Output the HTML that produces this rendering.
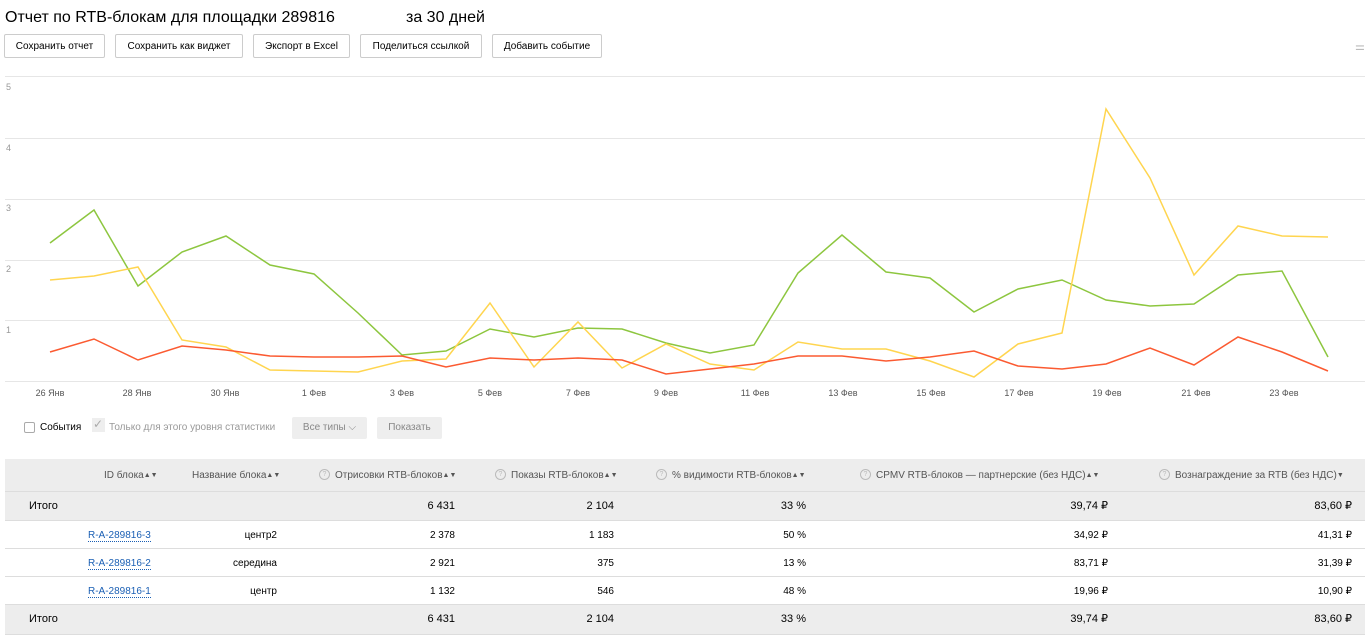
<!DOCTYPE html>
<html><head><meta charset="utf-8"><style>
*{margin:0;padding:0;box-sizing:border-box}
body{width:1365px;height:636px;background:#fff;font-family:"Liberation Sans",Arial,sans-serif;color:#000;position:relative;overflow:hidden}
.a{position:absolute;white-space:nowrap}
.btn{position:absolute;top:34px;height:24px;border:1px solid #ccc;border-radius:2px;font-size:10px;line-height:23px;text-align:center;background:#fff}
.row{position:absolute;left:5px;width:1360px;border-bottom:1px solid #ddd;font-size:10px}
.g{background:#ededed}
.c{position:absolute;white-space:nowrap;line-height:13px}
.r{text-align:right}
.h{color:#555}
.s{font-size:7px;vertical-align:1px}
.q{display:inline-block;width:11px;height:11px;border:1px solid #bbb;border-radius:50%;font-size:7px;line-height:9px;text-align:center;color:#bbb;margin-right:5px;vertical-align:middle;position:relative;top:-1px}
.lnk{color:#1a5fb4;border-bottom:1px dotted #1a5fb4}
</style></head><body>
<div class="a" style="left:5px;top:9px;font-size:16px">Отчет по RTB-блокам для площадки 289816</div>
<div class="a" style="left:406px;top:9px;font-size:16px">за 30 дней</div>
<div class="btn" style="left:4px;width:101px">Сохранить отчет</div>
<div class="btn" style="left:115px;width:128px">Сохранить как виджет</div>
<div class="btn" style="left:253px;width:97px">Экспорт в Excel</div>
<div class="btn" style="left:360px;width:122px">Поделиться ссылкой</div>
<div class="btn" style="left:492px;width:110px">Добавить событие</div>
<div class="a" style="left:1355px;top:40px;font-size:11px;color:#bbb">⚌</div>
<svg class="a" style="left:0;top:0" width="1365" height="400">
<g stroke="#e6e6e6" stroke-width="1">
<line x1="5" y1="76.5" x2="1365" y2="76.5"/><line x1="5" y1="138.5" x2="1365" y2="138.5"/><line x1="5" y1="199.5" x2="1365" y2="199.5"/><line x1="5" y1="260.5" x2="1365" y2="260.5"/><line x1="5" y1="320.5" x2="1365" y2="320.5"/><line x1="5" y1="381.5" x2="1365" y2="381.5"/>
</g>
<g font-size="9" fill="#999" font-family="Liberation Sans,sans-serif">
<text x="6" y="90">5</text><text x="6" y="151">4</text><text x="6" y="211">3</text><text x="6" y="272">2</text><text x="6" y="333">1</text>
</g>
<g font-size="9" fill="#555" font-family="Liberation Sans,sans-serif" text-anchor="middle">
<text x="50" y="396">26 Янв</text><text x="137" y="396">28 Янв</text><text x="225" y="396">30 Янв</text><text x="314" y="396">1 Фев</text><text x="402" y="396">3 Фев</text><text x="490" y="396">5 Фев</text><text x="578" y="396">7 Фев</text><text x="666" y="396">9 Фев</text><text x="755" y="396">11 Фев</text><text x="843" y="396">13 Фев</text><text x="931" y="396">15 Фев</text><text x="1019" y="396">17 Фев</text><text x="1107" y="396">19 Фев</text><text x="1196" y="396">21 Фев</text><text x="1284" y="396">23 Фев</text>
</g>
<g fill="none" stroke-width="1.5">
<polyline stroke="#8dc63f" points="50,243 94,210 138,286 182,252 226,236 270,265 314,274 358,313 402,355 446,351 490,329 534,337 578,328 622,329 666,343 710,353 754,345 798,273 842,235 886,272 930,278 974,312 1018,289 1062,280 1106,300 1150,306 1194,304 1238,275 1282,271 1328,357"/>
<polyline stroke="#ffd54f" points="50,280 94,276 138,267 182,340 226,347 270,370 314,371 358,372 402,361 446,359 490,303 534,367 578,322 622,368 666,344 710,364 754,370 798,342 842,349 886,349 930,361 974,377 1018,344 1062,333 1106,109 1150,178 1194,275 1238,226 1282,236 1328,237"/>
<polyline stroke="#fb5a31" points="50,352 94,339 138,360 182,346 226,350 270,356 314,357 358,357 402,356 446,367 490,358 534,360 578,358 622,360 666,374 710,369 754,364 798,356 842,356 886,361 930,357 974,351 1018,366 1062,369 1106,364 1150,348 1194,365 1238,337 1282,352 1328,371"/>
</g>
</svg>
<div class="a" style="left:24px;top:422px;width:11px;height:11px;border:1px solid #aaa;border-radius:2px"></div>
<div class="a" style="left:40px;top:422px;font-size:10px">События</div>
<div class="a" style="left:92px;top:418px;width:13px;height:14px;background:#eee"></div>
<div class="a" style="left:93px;top:417px;font-size:12px;color:#aaa">✓</div>
<div class="a" style="left:109px;top:422px;font-size:10px;color:#999">Только для этого уровня статистики</div>
<div class="a" style="left:292px;top:417px;width:75px;height:22px;background:#eee;border-radius:2px;font-size:10px;line-height:22px;text-align:center;color:#888">Все типы ⌵</div>
<div class="a" style="left:377px;top:417px;width:65px;height:22px;background:#eee;border-radius:2px;font-size:10px;line-height:22px;text-align:center;color:#888">Показать</div>

<div class="row g h" style="top:459px;height:33px">
<div class="c" style="left:99px;top:10px">ID блока<span class="s">▲▼</span></div>
<div class="c" style="left:187px;top:10px">Название блока<span class="s">▲▼</span></div>
<div class="c" style="left:314px;top:10px"><span class="q">?</span>Отрисовки RTB-блоков<span class="s">▲▼</span></div>
<div class="c" style="left:490px;top:10px"><span class="q">?</span>Показы RTB-блоков<span class="s">▲▼</span></div>
<div class="c" style="left:651px;top:10px"><span class="q">?</span>% видимости RTB-блоков<span class="s">▲▼</span></div>
<div class="c" style="left:855px;top:10px"><span class="q">?</span>CPMV RTB-блоков — партнерские (без НДС)<span class="s">▲▼</span></div>
<div class="c" style="left:1154px;top:10px"><span class="q">?</span>Вознаграждение за RTB (без НДС)<span class="s">▼</span></div>
</div>
<div class="row g" style="top:492px;height:29px;font-size:11px">
<div class="c" style="left:24px;top:8px">Итого</div>
<div class="c r" style="right:910px;top:8px">6 431</div><div class="c r" style="right:751px;top:8px">2 104</div><div class="c r" style="right:559px;top:8px">33 %</div><div class="c r" style="right:257px;top:8px">39,74 ₽</div><div class="c r" style="right:13px;top:8px">83,60 ₽</div>
</div>
<div class="row" style="top:521px;height:28px">
<div class="c" style="left:83px;top:8px"><span class="lnk">R-A-289816-3</span></div><div class="c r" style="right:1088px;top:8px">центр2</div>
<div class="c r" style="right:910px;top:8px">2 378</div><div class="c r" style="right:751px;top:8px">1 183</div><div class="c r" style="right:559px;top:8px">50 %</div><div class="c r" style="right:257px;top:8px">34,92 ₽</div><div class="c r" style="right:13px;top:8px">41,31 ₽</div>
</div>
<div class="row" style="top:549px;height:28px">
<div class="c" style="left:83px;top:8px"><span class="lnk">R-A-289816-2</span></div><div class="c r" style="right:1088px;top:8px">середина</div>
<div class="c r" style="right:910px;top:8px">2 921</div><div class="c r" style="right:751px;top:8px">375</div><div class="c r" style="right:559px;top:8px">13 %</div><div class="c r" style="right:257px;top:8px">83,71 ₽</div><div class="c r" style="right:13px;top:8px">31,39 ₽</div>
</div>
<div class="row" style="top:577px;height:28px">
<div class="c" style="left:83px;top:8px"><span class="lnk">R-A-289816-1</span></div><div class="c r" style="right:1088px;top:8px">центр</div>
<div class="c r" style="right:910px;top:8px">1 132</div><div class="c r" style="right:751px;top:8px">546</div><div class="c r" style="right:559px;top:8px">48 %</div><div class="c r" style="right:257px;top:8px">19,96 ₽</div><div class="c r" style="right:13px;top:8px">10,90 ₽</div>
</div>
<div class="row g" style="top:605px;height:30px;font-size:11px">
<div class="c" style="left:24px;top:8px">Итого</div>
<div class="c r" style="right:910px;top:8px">6 431</div><div class="c r" style="right:751px;top:8px">2 104</div><div class="c r" style="right:559px;top:8px">33 %</div><div class="c r" style="right:257px;top:8px">39,74 ₽</div><div class="c r" style="right:13px;top:8px">83,60 ₽</div>
</div>
</body></html>
